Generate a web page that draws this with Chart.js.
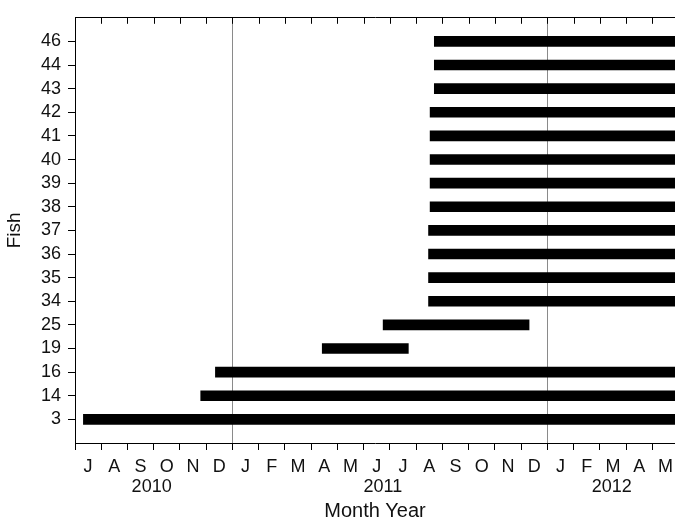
<!DOCTYPE html>
<html>
<head>
<meta charset="utf-8">
<script src="https://cdn.jsdelivr.net/npm/chart.js@4.4.1/dist/chart.umd.min.js"></script>
<style>
  html, body { margin: 0; padding: 0; background: #fff; }
  #wrap { width: 675px; height: 521px; }
</style>
</head>
<body>
<div id="wrap"><canvas id="fishChart"></canvas></div>
<script>
// fish ids, bottom to top
const fish = ['3', '14', '16', '19', '25', '34', '35', '36', '37', '38', '39', '40', '41', '42', '43', '44', '46'];
// months counted from 1 July 2010
const startMonth = [0.32, 4.79, 5.35, 9.42, 11.74, 13.47, 13.47, 13.47, 13.47, 13.53, 13.53, 13.53, 13.53, 13.53, 13.69, 13.69, 13.69];
const endMonth = [23, 23, 23, 12.70, 17.30, 23, 23, 23, 23, 23, 23, 23, 23, 23, 23, 23, 23];
// tick labels, Jul 2010 .. May 2012
const months = ['J', 'A', 'S', 'O', 'N', 'D', 'J', 'F', 'M', 'A', 'M', 'J', 'J', 'A', 'S', 'O', 'N', 'D', 'J', 'F', 'M', 'A', 'M'];
const years = ['2010', '2011', '2012'];
const yearPos = [2.92, 11.73, 20.45];
const yearStarts = [6, 18]; // Jan 2011, Jan 2012

const family = '"Liberation Sans", Arial, sans-serif';
const font = { family: family, size: 18 };

// small tick marks pointing inside along the top edge
const innerTicks = {
  id: 'innerTicks',
  afterDraw(chart) {
    const sx = chart.scales.x;
    const top = chart.chartArea.top;
    const ctx = chart.ctx;
    ctx.save();
    ctx.strokeStyle = '#000';
    ctx.lineWidth = 1;
    sx.ticks.forEach(t => {
      const px = Math.round(sx.getPixelForValue(t.value)) + 0.5;
      ctx.beginPath();
      ctx.moveTo(px, top);
      ctx.lineTo(px, top + 6);
      ctx.stroke();
    });
    ctx.restore();
  }
};

new Chart(document.getElementById('fishChart'), {
  type: 'bar',
  data: {
    datasets: [{
      data: fish.map((f, i) => ({ y: i, x: [startMonth[i], endMonth[i]] })),
      backgroundColor: '#000',
      borderWidth: 0,
      barThickness: 10
    }]
  },
  options: {
    indexAxis: 'y',
    responsive: true,
    maintainAspectRatio: false,
    animation: false,
    layout: { padding: { top: 15, right: 0, left: 0, bottom: 0 } },
    plugins: { legend: { display: false }, tooltip: { enabled: false } },
    scales: {
      x: {
        type: 'linear',
        position: 'bottom',
        min: 0,
        max: 22.86,
        afterBuildTicks: s => { s.ticks = months.map((m, i) => ({ value: i })); },
        afterFit: s => { s.height = 32; },
        ticks: {
          callback: v => months[v],
          labelOffset: 13,
          padding: 6,
          maxRotation: 0,
          autoSkip: false,
          color: '#111',
          font: font
        },
        grid: {
          drawOnChartArea: true,
          color: c => (c.tick && yearStarts.includes(c.tick.value)) ? '#8a8a8a' : 'rgba(0,0,0,0)',
          tickColor: '#000',
          tickLength: 7,
          lineWidth: 1
        },
        border: { display: true, color: '#000', width: 1 }
      },
      xYear: {
        type: 'linear',
        position: 'bottom',
        min: 0,
        max: 22.86,
        afterBuildTicks: s => { s.ticks = yearPos.map(p => ({ value: p })); },
        afterFit: s => { s.height = 46; },
        ticks: {
          callback: (v, i) => years[i],
          padding: 1,
          maxRotation: 0,
          autoSkip: false,
          color: '#111',
          font: font
        },
        grid: { display: false, drawTicks: false },
        border: { display: false },
        title: {
          display: true,
          text: 'Month Year',
          color: '#111',
          font: { family: family, size: 20, lineHeight: 1 },
          padding: { top: 0, bottom: 0 }
        }
      },
      xTop: {
        type: 'linear',
        position: 'top',
        min: 0,
        max: 22.86,
        ticks: { display: false },
        grid: { drawOnChartArea: false, drawTicks: false },
        border: { display: true, color: '#000', width: 1 }
      },
      y: {
        type: 'linear',
        min: -1,
        max: 17,
        offset: false,
        afterBuildTicks: s => { s.ticks = fish.map((f, i) => ({ value: i })); },
        afterFit: s => { s.width = 75; },
        ticks: {
          callback: v => fish[v],
          padding: 7,
          autoSkip: false,
          color: '#111',
          font: font
        },
        grid: { offset: false, drawOnChartArea: false, tickColor: '#000', tickLength: 7 },
        border: { display: true, color: '#000', width: 1 },
        title: {
          display: true,
          text: 'Fish',
          color: '#111',
          font: { family: family, size: 19, lineHeight: 1 },
          padding: { top: 5, bottom: 0 }
        }
      }
    }
  },
  plugins: [innerTicks]
});
</script>
</body>
</html>
